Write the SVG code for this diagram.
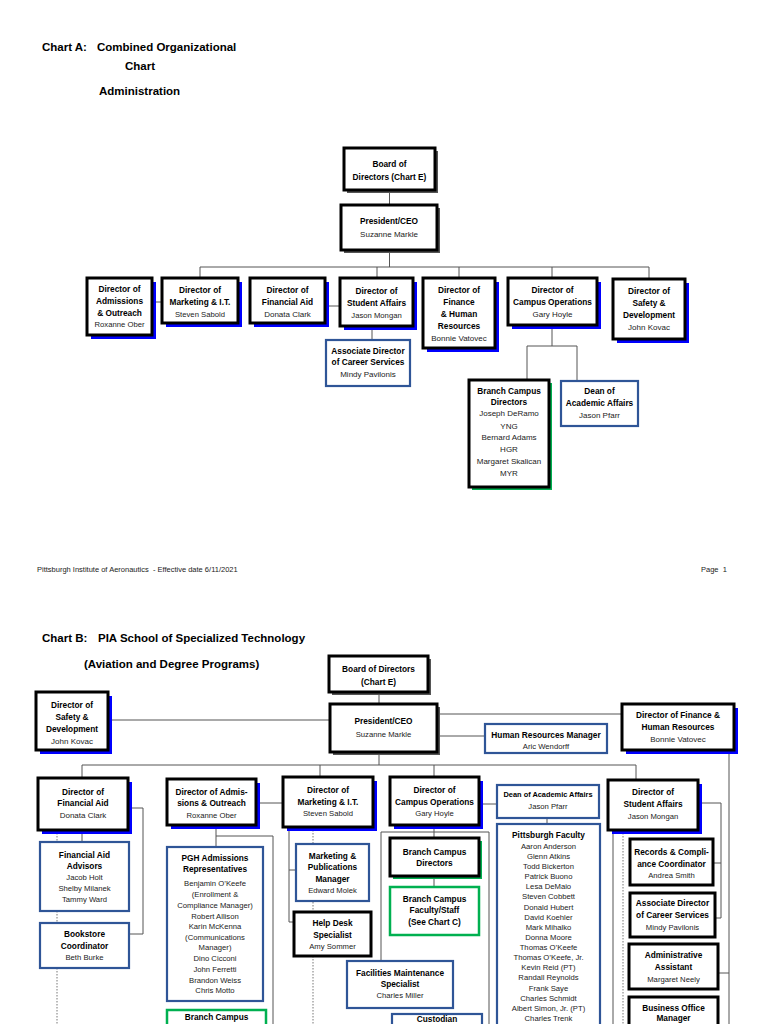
<svg xmlns="http://www.w3.org/2000/svg" width="768" height="1024" viewBox="0 0 768 1024">
<style>
text{font-family:"Liberation Sans",Arial,sans-serif;fill:#000}
.h{font-size:11.5px;font-weight:bold}
.t{font-size:8.3px;font-weight:bold;text-anchor:middle}
.n{font-size:8px;text-anchor:middle;fill:#222}
.s{font-size:7.7px;text-anchor:middle;fill:#222}
.f{font-size:7.5px;fill:#222}
.b{fill:#fff;stroke:#000;stroke-width:3}
.u{fill:#fff;stroke:#2f5597;stroke-width:2.2}
.g{fill:#fff;stroke:#00b050;stroke-width:2.5}
.sb{fill:#0000ff}
.sk{fill:#555}
.sg{fill:#00b050}
.c{fill:none;stroke:#555;stroke-width:1}
.d{fill:none;stroke:#777;stroke-width:1;stroke-dasharray:1.5 1.5}
</style>
<rect width="768" height="1024" fill="#fff"/>

<g id="headerA">
<text class="h" x="42" y="51">Chart A:</text>
<text class="h" x="97" y="51">Combined Organizational</text>
<text class="h" x="125" y="70">Chart</text>
<text class="h" x="99" y="95">Administration</text>
</g>

<g id="connectorsA">
<path class="c" d="M389.5 190V205M389.5 250V267M200 267H649M200 267V278M377 267V278M459 267V278M552 267V278M649 267V279"/>
<path class="c" d="M152 302H162M325 306H340M372 326V340M552 325V346M527 346H577M527 346V380M577 346V381"/>
</g>

<g id="a-board"><rect class="sk" x="347" y="151" width="91" height="42"/><rect class="b" x="344" y="148" width="91" height="42"/>
<text class="t" x="389.5" y="167">Board of</text><text class="t" x="389.5" y="180">Directors (Chart E)</text></g>
<g id="a-president"><rect class="sk" x="344" y="208" width="96" height="45"/><rect class="b" x="341" y="205" width="96" height="45"/>
<text class="t" x="389" y="224">President/CEO</text><text class="n" x="389" y="237">Suzanne Markle</text></g>

<g id="a-admissions"><rect class="sb" x="91" y="282" width="65" height="57"/><rect class="b" x="87" y="278" width="65" height="57"/>
<text class="t" x="119.5" y="292">Director of</text><text class="t" x="119.5" y="304">Admissions</text><text class="t" x="119.5" y="316">&amp; Outreach</text><text class="s" x="119.5" y="327">Roxanne Ober</text></g>
<g id="a-marketing"><rect class="sb" x="166" y="282" width="76" height="45"/><rect class="b" x="162" y="278" width="76" height="45"/>
<text class="t" x="200" y="293">Director of</text><text class="t" x="200" y="305">Marketing &amp; I.T.</text><text class="s" x="200" y="317">Steven Sabold</text></g>
<g id="a-finaid"><rect class="sb" x="254" y="282" width="75" height="45"/><rect class="b" x="250" y="278" width="75" height="45"/>
<text class="t" x="287.5" y="293">Director of</text><text class="t" x="287.5" y="305">Financial Aid</text><text class="n" x="287.5" y="317">Donata Clark</text></g>
<g id="a-student"><rect class="sb" x="344" y="282" width="73" height="48"/><rect class="b" x="340" y="278" width="73" height="48"/>
<text class="t" x="376.5" y="294">Director of</text><text class="t" x="376.5" y="306">Student Affairs</text><text class="s" x="376.5" y="318">Jason Mongan</text></g>
<g id="a-finance"><rect class="sb" x="427" y="282" width="72" height="70"/><rect class="b" x="423" y="278" width="72" height="70"/>
<text class="t" x="459" y="293">Director of</text><text class="t" x="459" y="305">Finance</text><text class="t" x="459" y="317">&amp; Human</text><text class="t" x="459" y="329">Resources</text><text class="n" x="459" y="341">Bonnie Vatovec</text></g>
<g id="a-campus"><rect class="sb" x="512" y="282" width="89" height="47"/><rect class="b" x="508" y="278" width="89" height="47"/>
<text class="t" x="552.5" y="293">Director of</text><text class="t" x="552.5" y="305">Campus Operations</text><text class="n" x="552.5" y="317">Gary Hoyle</text></g>
<g id="a-safety"><rect class="sb" x="617" y="283" width="72" height="60"/><rect class="b" x="613" y="279" width="72" height="60"/>
<text class="t" x="649" y="294">Director of</text><text class="t" x="649" y="306">Safety &amp;</text><text class="t" x="649" y="318">Development</text><text class="n" x="649" y="330">John Kovac</text></g>
<g id="a-assoc"><rect class="u" x="326" y="340" width="84" height="46"/>
<text class="t" x="368" y="354">Associate Director</text><text class="t" x="368" y="365">of Career Services</text><text class="n" x="368" y="377">Mindy Pavilonis</text></g>
<g id="a-branch"><rect class="sg" x="472" y="383" width="80" height="107"/><rect class="b" x="469" y="380" width="80" height="107"/>
<text class="t" x="509" y="394">Branch Campus</text><text class="t" x="509" y="405">Directors</text>
<text class="n" x="509" y="416">Joseph DeRamo</text><text class="n" x="509" y="429">YNG</text><text class="n" x="509" y="440">Bernard Adams</text><text class="n" x="509" y="452">HGR</text><text class="n" x="509" y="464">Margaret Skalican</text><text class="n" x="509" y="476">MYR</text></g>
<g id="a-dean"><rect class="u" x="561" y="381" width="77" height="45"/>
<text class="t" x="599.5" y="394">Dean of</text><text class="t" x="599.5" y="406">Academic Affairs</text><text class="n" x="599.5" y="418">Jason Pfarr</text></g>

<g id="footer">
<text class="f" x="37" y="572" xml:space="preserve">Pittsburgh Institute of Aeronautics  - Effective date 6/11/2021</text>
<text class="f" x="701" y="572" xml:space="preserve">Page  1</text>
</g>

<g id="headerB">
<text class="h" x="42" y="642">Chart B:</text>
<text class="h" x="98" y="642">PIA School of Specialized Technology</text>
<text class="h" x="84" y="668">(Aviation and Degree Programs)</text>
</g>

<g id="connectorsB">
<path class="c" d="M379 692V704M108 720H330M437 714H622M437 736H485M729 750V1024M379 752V765M82 765H636M82 765V778M320 765V777M434 765V777M636 765V780"/>
<path class="c" d="M256 803H283M479 804H497M128 808H143V934H130M82 830V842M216 825V847M216 836H273V1024M289 827V922H294M289 870H296"/>
<path class="c" d="M434 825V838M434 876V887M381 961V832H489V1024M547 818V824M698 803H721V918M713 863H721M715 918H721M613 830V1024M718 973H729"/>
<path class="d" d="M57 830V1024M313 827V1024M623 830V1024"/>
</g>

<g id="b-board"><rect class="sk" x="332" y="659" width="99" height="36"/><rect class="b" x="329" y="656" width="99" height="36"/>
<text class="t" x="378.5" y="672">Board of Directors</text><text class="t" x="378.5" y="685">(Chart E)</text></g>
<g id="b-president"><rect class="sk" x="333" y="707" width="107" height="48"/><rect class="b" x="330" y="704" width="107" height="48"/>
<text class="t" x="383.5" y="724">President/CEO</text><text class="s" x="383.5" y="737">Suzanne Markle</text></g>
<g id="b-safety"><rect class="sb" x="40" y="696" width="72" height="58"/><rect class="b" x="36" y="692" width="72" height="58"/>
<text class="t" x="72" y="708">Director of</text><text class="t" x="72" y="720">Safety &amp;</text><text class="t" x="72" y="732">Development</text><text class="n" x="72" y="744">John Kovac</text></g>
<g id="b-hr"><rect class="u" x="485" y="724" width="122" height="29"/>
<text class="t" x="546" y="738">Human Resources Manager</text><text class="s" x="546" y="749">Aric Wendorff</text></g>
<g id="b-finance"><rect class="sb" x="626" y="708" width="112" height="46"/><rect class="b" x="622" y="704" width="112" height="46"/>
<text class="t" x="678" y="718">Director of Finance &amp;</text><text class="t" x="678" y="730">Human Resources</text><text class="n" x="678" y="742">Bonnie Vatovec</text></g>

<g id="b-finaid"><rect class="sb" x="42" y="782" width="90" height="52"/><rect class="b" x="38" y="778" width="90" height="52"/>
<text class="t" x="83" y="795">Director of</text><text class="t" x="83" y="806">Financial Aid</text><text class="n" x="83" y="818">Donata Clark</text></g>
<g id="b-admissions"><rect class="sb" x="171" y="783" width="89" height="46"/><rect class="b" x="167" y="779" width="89" height="46"/>
<text class="t" x="211.5" y="795">Director of Admis-</text><text class="t" x="211.5" y="806">sions &amp; Outreach</text><text class="s" x="211.5" y="818">Roxanne Ober</text></g>
<g id="b-marketing"><rect class="sb" x="287" y="781" width="90" height="50"/><rect class="b" x="283" y="777" width="90" height="50"/>
<text class="t" x="328" y="793">Director of</text><text class="t" x="328" y="805">Marketing &amp; I.T.</text><text class="s" x="328" y="816">Steven Sabold</text></g>
<g id="b-campus"><rect class="sb" x="394" y="781" width="89" height="48"/><rect class="b" x="390" y="777" width="89" height="48"/>
<text class="t" x="434.5" y="793">Director of</text><text class="t" x="434.5" y="805">Campus Operations</text><text class="s" x="434.5" y="816">Gary Hoyle</text></g>
<g id="b-dean"><rect class="u" x="497" y="785" width="102" height="33"/>
<text class="t" x="548" y="797" style="font-size:7.4px">Dean of Academic Affairs</text><text class="s" x="548" y="809">Jason Pfarr</text></g>
<g id="b-student"><rect class="sb" x="612" y="784" width="90" height="50"/><rect class="b" x="608" y="780" width="90" height="50"/>
<text class="t" x="653" y="795">Director of</text><text class="t" x="653" y="807">Student Affairs</text><text class="s" x="653" y="819">Jason Mongan</text></g>

<g id="b-advisors"><rect class="u" x="40" y="842" width="89" height="69"/>
<text class="t" x="84.5" y="858">Financial Aid</text><text class="t" x="84.5" y="869">Advisors</text><text class="s" x="84.5" y="880">Jacob Holt</text><text class="s" x="84.5" y="891">Shelby Milanek</text><text class="s" x="84.5" y="902">Tammy Ward</text></g>
<g id="b-bookstore"><rect class="u" x="40" y="923" width="89" height="45"/>
<text class="t" x="84.5" y="937">Bookstore</text><text class="t" x="84.5" y="949">Coordinator</text><text class="s" x="84.5" y="960">Beth Burke</text></g>
<g id="b-pgh"><rect class="u" x="167" y="847" width="96" height="154"/>
<text class="t" x="215" y="861">PGH Admissions</text><text class="t" x="215" y="872">Representatives</text>
<text class="s" x="215" y="886">Benjamin O’Keefe</text><text class="s" x="215" y="897">(Enrollment &amp;</text><text class="s" x="215" y="908">Compliance Manager)</text><text class="s" x="215" y="919">Robert Allison</text><text class="s" x="215" y="929">Karin McKenna</text><text class="s" x="215" y="940">(Communications</text><text class="s" x="215" y="950">Manager)</text><text class="s" x="215" y="961">Dino Cicconi</text><text class="s" x="215" y="972">John Ferretti</text><text class="s" x="215" y="983">Brandon Weiss</text><text class="s" x="215" y="993">Chris Motto</text></g>
<g id="b-branch-adm"><rect class="g" x="167" y="1010" width="99" height="24"/>
<text class="t" x="216.5" y="1020">Branch Campus</text></g>
<g id="b-mktpub"><rect class="u" x="296" y="844" width="73" height="57"/>
<text class="t" x="332.5" y="859">Marketing &amp;</text><text class="t" x="332.5" y="870">Publications</text><text class="t" x="332.5" y="882">Manager</text><text class="s" x="332.5" y="893">Edward Molek</text></g>
<g id="b-helpdesk"><rect class="b" x="294" y="912" width="77" height="44"/>
<text class="t" x="332.5" y="926">Help Desk</text><text class="t" x="332.5" y="938">Specialist</text><text class="s" x="332.5" y="949">Amy Sommer</text></g>
<g id="b-branchdir"><rect class="sg" x="393" y="841" width="89" height="38"/><rect class="b" x="390" y="838" width="89" height="38"/>
<text class="t" x="434.5" y="855">Branch Campus</text><text class="t" x="434.5" y="866">Directors</text></g>
<g id="b-branchfac"><rect class="g" x="390" y="887" width="89" height="48"/>
<text class="t" x="434.5" y="902">Branch Campus</text><text class="t" x="434.5" y="913">Faculty/Staff</text><text class="t" x="434.5" y="925">(See Chart C)</text></g>
<g id="b-facilities"><rect class="u" x="347" y="961" width="106" height="47"/>
<text class="t" x="400" y="976">Facilities Maintenance</text><text class="t" x="400" y="987">Specialist</text><text class="s" x="400" y="998">Charles Miller</text></g>
<g id="b-custodian"><rect class="u" x="392" y="1014" width="90" height="24"/>
<text class="t" x="437" y="1022">Custodian</text></g>
<g id="b-faculty"><rect class="u" x="497" y="824" width="103" height="215"/>
<text class="t" x="548.5" y="838">Pittsburgh Faculty</text>
<text class="s" x="548.5" y="849">Aaron Anderson</text><text class="s" x="548.5" y="859">Glenn Atkins</text><text class="s" x="548.5" y="869">Todd Bickerton</text><text class="s" x="548.5" y="879">Patrick Buono</text><text class="s" x="548.5" y="889">Lesa DeMaio</text><text class="s" x="548.5" y="899">Steven Cobbett</text><text class="s" x="548.5" y="910">Donald Hubert</text><text class="s" x="548.5" y="920">David Koehler</text><text class="s" x="548.5" y="930">Mark Mihalko</text><text class="s" x="548.5" y="940">Donna Moore</text><text class="s" x="548.5" y="950">Thomas O’Keefe</text><text class="s" x="548.5" y="960">Thomas O’Keefe, Jr.</text><text class="s" x="548.5" y="970">Kevin Reid (PT)</text><text class="s" x="548.5" y="980">Randall Reynolds</text><text class="s" x="548.5" y="991">Frank Saye</text><text class="s" x="548.5" y="1001">Charles Schmidt</text><text class="s" x="548.5" y="1011">Albert Simon, Jr. (PT)</text><text class="s" x="548.5" y="1021">Charles Trenk</text></g>
<g id="b-records"><rect class="b" x="630" y="839" width="83" height="46"/>
<text class="t" x="671.5" y="855">Records &amp; Compli-</text><text class="t" x="671.5" y="867">ance Coordinator</text><text class="s" x="671.5" y="878">Andrea Smith</text></g>
<g id="b-assoc"><rect class="b" x="630" y="893" width="85" height="44"/>
<text class="t" x="672.5" y="906">Associate Director</text><text class="t" x="672.5" y="918">of Career Services</text><text class="s" x="672.5" y="930">Mindy Pavilonis</text></g>
<g id="b-admin"><rect class="b" x="629" y="944" width="89" height="45"/>
<text class="t" x="673.5" y="958">Administrative</text><text class="t" x="673.5" y="970">Assistant</text><text class="s" x="673.5" y="982">Margaret Neely</text></g>
<g id="b-business"><rect class="b" x="629" y="997" width="89" height="40"/>
<text class="t" x="673.5" y="1011">Business Office</text><text class="t" x="673.5" y="1021">Manager</text></g>
</svg>
